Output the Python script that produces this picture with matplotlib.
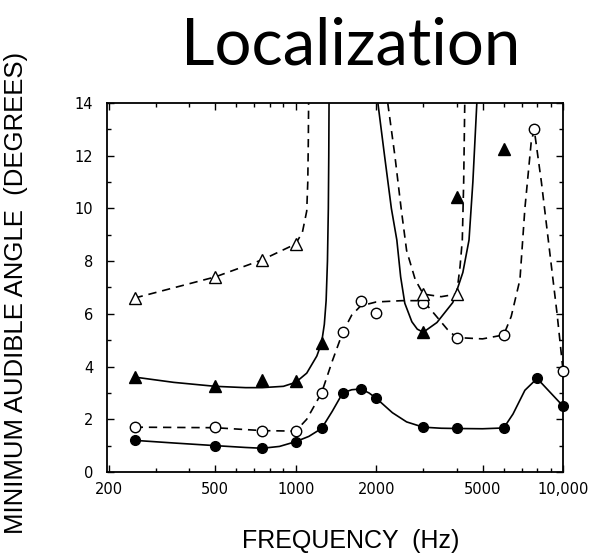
import matplotlib
matplotlib.use("Agg")
import matplotlib.pyplot as plt
from matplotlib.ticker import FixedLocator, NullFormatter

# measured points (frequency in Hz, minimum audible angle in degrees)
FREQ = [250, 500, 750, 1000, 1250, 1500, 1750, 2000, 3000, 4000, 6000, 8000, 10000]
FILLED_CIRCLE = [1.2, 1.0, 0.9, 1.15, 1.65, 3.0, 3.15, 2.8, 1.7, 1.65, 1.65, 3.55, 2.5]

OPEN_CIRCLE_FREQ = [250, 500, 750, 1000, 1250, 1500, 1750, 2000, 3000, 4000, 6000, 7800, 10000]
OPEN_CIRCLE = [1.7, 1.7, 1.57, 1.57, 3.0, 5.3, 6.5, 6.05, 6.4, 5.1, 5.2, 13.0, 3.85]

FILLED_TRI_FREQ = [250, 500, 750, 1000, 1250, 3000, 4000, 6000]
FILLED_TRI = [3.6, 3.25, 3.5, 3.45, 4.9, 5.3, 10.45, 12.25]

OPEN_TRI_FREQ = [250, 500, 750, 1000, 3000, 4000]
OPEN_TRI = [6.6, 7.4, 8.05, 8.65, 6.75, 6.75]

# hand-drawn fitted curves
FC_CURVE_F = [250, 350, 500, 650, 750, 870, 1000, 1120, 1250, 1370, 1500, 1620, 1750,
              1880, 2000, 2300, 2600, 3000, 3500, 4000, 5000, 6000, 6500, 7200, 8000, 10000]
FC_CURVE_Y = [1.2, 1.1, 1.0, 0.93, 0.9, 0.97, 1.15, 1.35, 1.65, 2.3, 3.0, 3.12, 3.15,
              3.0, 2.8, 2.25, 1.9, 1.7, 1.66, 1.65, 1.64, 1.67, 2.2, 3.1, 3.55, 2.5]

OC_CURVE_F = [250, 500, 750, 1000, 1100, 1250, 1370, 1500, 1620, 1750, 2000, 2500, 3000,
              3300, 3700, 4000, 5000, 6000, 6400, 6900, 7200, 7600, 7800, 8300, 9000, 9500, 10000]
OC_CURVE_Y = [1.7, 1.68, 1.57, 1.55, 2.0, 3.0, 4.2, 5.3, 5.95, 6.3, 6.45, 6.5, 6.5,
              6.0, 5.4, 5.1, 5.05, 5.2, 5.9, 7.3, 10.0, 12.5, 13.0, 11.0, 8.0, 6.0, 3.85]

FT_CURVE1_F = [250, 350, 500, 650, 750, 900, 1000, 1100, 1200, 1250, 1280, 1300, 1315, 1325, 1330, 1333]
FT_CURVE1_Y = [3.6, 3.4, 3.25, 3.2, 3.2, 3.25, 3.4, 3.75, 4.4, 4.9, 5.6, 6.5, 8.0, 10.0, 12.0, 14.0]
FT_CURVE2_F = [2030, 2150, 2280, 2390, 2470, 2560, 2720, 2850, 3000, 3375, 3870, 4220, 4450, 4600, 4760]
FT_CURVE2_Y = [14.0, 12.0, 10.0, 8.8, 7.4, 6.4, 5.7, 5.42, 5.3, 5.67, 6.43, 7.57, 8.8, 11.0, 14.0]

OT_CURVE1_F = [250, 500, 750, 1000, 1060, 1100, 1110, 1115, 1118]
OT_CURVE1_Y = [6.6, 7.4, 8.05, 8.65, 9.1, 9.9, 11.0, 12.5, 14.0]
OT_CURVE2_F = [2210, 2350, 2480, 2600, 2800, 3000, 3500, 4000, 4120, 4200, 4250, 4290]
OT_CURVE2_Y = [14.0, 12.0, 10.0, 8.4, 7.3, 6.75, 6.65, 6.75, 7.8, 8.8, 11.0, 14.0]

MAJOR_X = [200, 500, 1000, 2000, 5000, 10000]
MAJOR_X_LABELS = ["200", "500", "1000", "2000", "5000", "10,000"]
MINOR_X = [300, 400, 600, 700, 800, 900, 3000, 4000, 6000, 7000, 8000, 9000]


def main() -> None:
    fig = plt.figure(figsize=(6.06, 5.56), dpi=100)
    ax = fig.add_axes([0.1766, 0.1511, 0.7525, 0.6637])

    lw = 1.2
    dash = (0, (5, 3.5))
    ax.plot(FC_CURVE_F, FC_CURVE_Y, color="black", lw=lw, clip_on=False)
    ax.plot(OC_CURVE_F, OC_CURVE_Y, color="black", lw=lw, linestyle=dash, clip_on=False)
    ax.plot(FT_CURVE1_F, FT_CURVE1_Y, color="black", lw=lw)
    ax.plot(FT_CURVE2_F, FT_CURVE2_Y, color="black", lw=lw)
    ax.plot(OT_CURVE1_F, OT_CURVE1_Y, color="black", lw=lw, linestyle=dash)
    ax.plot(OT_CURVE2_F, OT_CURVE2_Y, color="black", lw=lw, linestyle=dash)

    ax.plot(FREQ, FILLED_CIRCLE, "o", color="black", ms=7, clip_on=False, zorder=5)
    ax.plot(OPEN_CIRCLE_FREQ, OPEN_CIRCLE, "o", mfc="white", mec="black", mew=1.0,
            ms=7.5, clip_on=False, zorder=5)
    ax.plot(FILLED_TRI_FREQ, FILLED_TRI, "^", color="black", ms=8, clip_on=False, zorder=5)
    ax.plot(OPEN_TRI_FREQ, OPEN_TRI, "^", mfc="white", mec="black", mew=1.0,
            ms=8.5, clip_on=False, zorder=5)

    ax.set_xscale("log")
    ax.set_xlim(197, 10000)
    ax.set_ylim(0, 14)
    ax.xaxis.set_major_locator(FixedLocator(MAJOR_X))
    ax.xaxis.set_minor_locator(FixedLocator(MINOR_X))
    ax.xaxis.set_minor_formatter(NullFormatter())
    ax.set_xticklabels(MAJOR_X_LABELS)
    ax.set_yticks(range(0, 15, 2))
    ax.set_yticks(range(1, 14, 2), minor=True)

    ax.tick_params(which="both", direction="in", top=True, right=True, width=1.0,
                   labelsize=10.5, labelfontfamily="DejaVu Sans")
    ax.tick_params(which="major", length=5)
    ax.tick_params(axis="y", which="major", pad=10)
    ax.tick_params(axis="x", which="major", pad=7)
    ax.tick_params(which="minor", length=3)
    for s in ax.spines.values():
        s.set_linewidth(1.3)

    fig.text(0.578, 0.918, "Localization", ha="center", va="center",
             fontsize=47, family="Lato")
    fig.text(0.027, 0.473, "MINIMUM AUDIBLE ANGLE  (DEGREES)", rotation=90,
             ha="center", va="center", fontsize=18.5, family="Liberation Sans")
    fig.text(0.578, 0.027, "FREQUENCY  (Hz)", ha="center", va="center",
             fontsize=18, family="Liberation Sans")

    fig.savefig("out.png", dpi=100)


if __name__ == "__main__":
    main()
